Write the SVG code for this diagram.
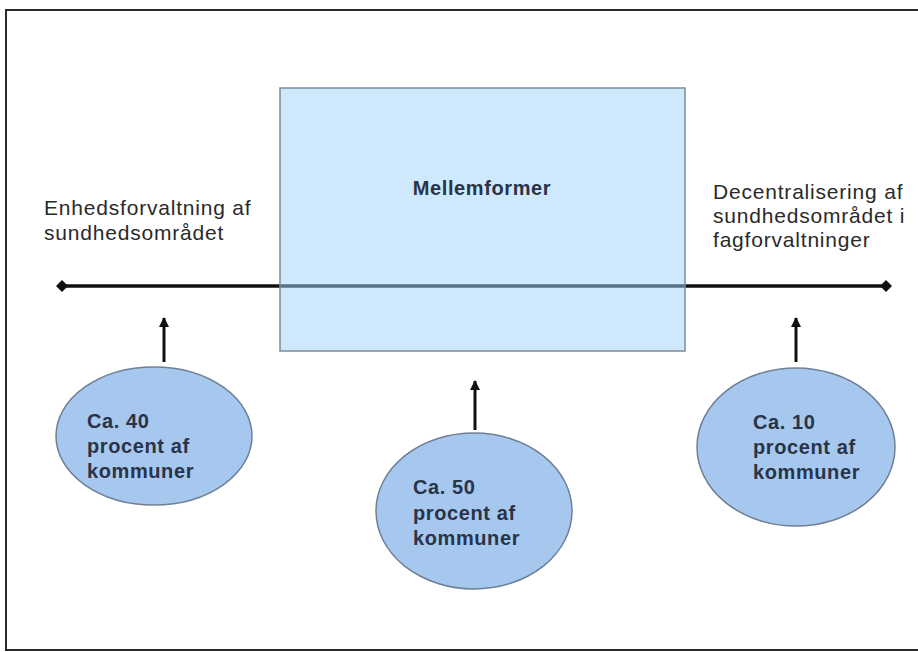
<svg xmlns="http://www.w3.org/2000/svg" width="918" height="652" viewBox="0 0 918 652">
<defs>
<style>
.t{font-family:"Liberation Sans",Arial,sans-serif;font-size:21px;fill:#2a2a2a;letter-spacing:0.8px}
.b{font-size:20px;font-weight:bold;fill:#2a3348;letter-spacing:0.6px}
.ell{fill:#a6c8ee;stroke:#6f7f96;stroke-width:1.5}
.arr{stroke:#111;stroke-width:3;fill:none}
</style>
<marker id="dia" viewBox="0 0 12 12" refX="6" refY="6" markerWidth="12" markerHeight="12" markerUnits="userSpaceOnUse" orient="auto">
<path d="M0 6 L6 0 L12 6 L6 12 Z" fill="#111"/>
</marker>
<marker id="ah" viewBox="0 0 10 10" refX="9" refY="5" markerWidth="10" markerHeight="10" markerUnits="userSpaceOnUse" orient="auto">
<path d="M0 0 L10 5 L0 10 Z" fill="#111"/>
</marker>
</defs>
<rect width="918" height="652" fill="#fff"/>
<rect x="6" y="10" width="930" height="640" fill="none" stroke="#2a2a2a" stroke-width="2"/>
<g id="connectors">
<line x1="62" y1="286" x2="886" y2="286" stroke="#111" stroke-width="3.5" marker-start="url(#dia)" marker-end="url(#dia)"/>
<line x1="164" y1="362" x2="164" y2="318" class="arr" marker-end="url(#ah)"/>
<line x1="475" y1="430" x2="475" y2="381" class="arr" marker-end="url(#ah)"/>
<line x1="796" y1="362" x2="796" y2="318" class="arr" marker-end="url(#ah)"/>
</g>
<g id="mellemformer">
<rect x="280" y="88" width="405" height="263" fill="#9bd3f7" fill-opacity="0.5" stroke="#7d8a98" stroke-width="1.5"/>
<text class="t b" x="482" y="195" text-anchor="middle">Mellemformer</text>
</g>
<g id="enhed">
<text class="t" x="44" y="215">Enhedsforvaltning af</text>
<text class="t" x="44" y="240">sundhedsområdet</text>
</g>
<g id="decentral">
<text class="t" x="713" y="199">Decentralisering af</text>
<text class="t" x="713" y="223">sundhedsområdet i</text>
<text class="t" x="713" y="247">fagforvaltninger</text>
</g>
<g id="c40">
<ellipse class="ell" cx="154" cy="436" rx="98" ry="69"/>
<text class="t b" x="87" y="428">Ca. 40</text>
<text class="t b" x="87" y="453">procent af</text>
<text class="t b" x="87" y="478">kommuner</text>
</g>
<g id="c50">
<ellipse class="ell" cx="474" cy="511" rx="98" ry="78"/>
<text class="t b" x="413" y="494">Ca. 50</text>
<text class="t b" x="413" y="520">procent af</text>
<text class="t b" x="413" y="545">kommuner</text>
</g>
<g id="c10">
<ellipse class="ell" cx="796" cy="447" rx="99" ry="79"/>
<text class="t b" x="753" y="429">Ca. 10</text>
<text class="t b" x="753" y="454">procent af</text>
<text class="t b" x="753" y="479">kommuner</text>
</g>
</svg>
